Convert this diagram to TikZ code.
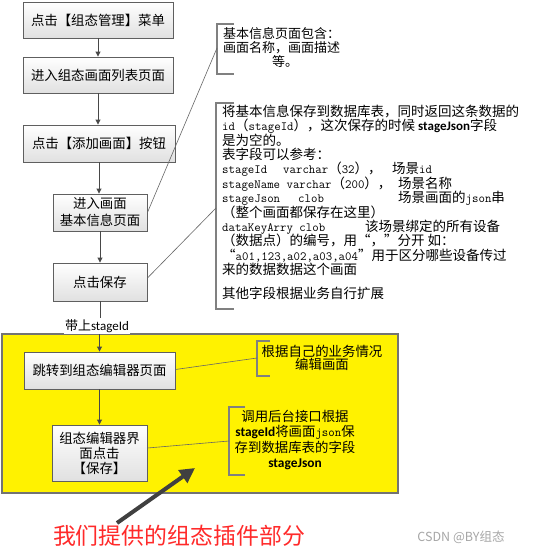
\documentclass[tikz,border=0pt]{standalone}
\usepackage{fontspec}
\setmainfont{Noto Sans CJK SC}
\newfontfamily\calfont{Carlito}
\usetikzlibrary{arrows.meta,shadows}
\newcommand{\tx}[1]{{\ttfamily\fontsize{12.5}{14}\selectfont #1}}
\newcommand{\myLQ}{\makebox[13.5pt][r]{“}}
\newcommand{\myRQ}{\makebox[13.5pt][l]{”}}
\definecolor{boxline}{HTML}{5F5F5F}
\definecolor{connc}{HTML}{484848}
\definecolor{redtxt}{HTML}{FF2A2A}
\begin{document}
\begin{tikzpicture}[x=1pt,y=-1pt,
  flow/.style={draw=boxline, line width=0.9pt, top color=white, bottom color=black!12,
    align=center, inner sep=0pt, font=\fontsize{13.4}{16}\selectfont,
    drop shadow={opacity=0.18,shadow xshift=1pt,shadow yshift=-1pt}},
  conn/.style={draw=connc, line width=0.9pt, -{Triangle[length=5pt,width=5pt]}},
  plainconn/.style={draw=connc, line width=0.9pt},
  note/.style={draw=black!60, line width=0.6pt},
  brk/.style={draw=black!50, line width=1.1pt},
  ln/.style={anchor=west, inner sep=0pt, text height=9pt, text depth=2.5pt, font=\fontsize{13.5}{15}\selectfont},
  tn/.style={anchor=west, inner sep=0pt, text height=9pt, text depth=2.5pt, font=\fontsize{13}{15}\selectfont}
]
\useasboundingbox (0,0) rectangle (538,552);
\fill[white] (0,0) rectangle (538,552);

% yellow region
\draw[fill=yellow, draw=black!55, line width=1.1pt] (2,334) rectangle (398,493);

% flow boxes
\node[flow, minimum width=150pt, minimum height=36pt] (b1) at (98,20) {点击【组态管理】菜单};
\node[flow, minimum width=150pt, minimum height=36pt] (b2) at (98,75) {进入组态画面列表页面};
\node[flow, minimum width=152pt, minimum height=37pt] (b3) at (99,143.5) {点击【添加画面】按钮};
\node[flow, minimum width=94pt, minimum height=37pt, font=\fontsize{13.4}{17}\selectfont] (b4) at (100,212.5) {进入画面\\基本信息页面};
\node[flow, minimum width=94pt, minimum height=38pt] (b5) at (100,282) {点击保存};
\node[flow, minimum width=151pt, minimum height=37pt] (b6) at (99.5,370.5) {跳转到组态编辑器页面};
\node[flow, minimum width=95pt, minimum height=56pt, font=\fontsize{13.4}{15}\selectfont] (b7) at (99.5,453) {组态编辑器界\\面点击\\【保存】};

\node[fill=white, inner sep=1.5pt, font=\fontsize{13}{15}\selectfont] (lab) at (97,326) {带上{\calfont stageId}};

% flow connectors
\draw[conn] (b1.south) -- (b1.south |- b2.north);
\draw[conn] (b2.south) -- (b2.south |- b3.north);
\draw[conn] (b3.south) -- (b3.south |- b4.north);
\draw[conn] (b4.south) -- (b4.south |- b5.north);
\draw[plainconn] (b5.south) -- (b5.south |- lab.north);
\draw[conn] (b6.north |- lab.south) -- (b6.north);
\draw[conn] (b6.south) -- (b6.south |- b7.north);

% annotation 1
\draw[brk] (234,24) -- (217,24) -- (217,74) -- (234,74);
\coordinate (k1) at (217,48);
\node[tn] (n1a) at (223,35) {基本信息页面包含：};
\node[tn] (n1b) at (223,49) {画面名称，画面描述};
\node[tn] (n1c) at (272,63) {等。};
\draw[note] (b4.east) -- (k1);

% annotation 2
\draw[brk] (234,103) -- (216,103) -- (216,309) -- (234,309);
\coordinate (k2) at (216,208);
\node[ln] (m1) at (222,113) {将基本信息保存到数据库表，同时返回这条数据的};
\node[ln] (m2) at (222,127.5) {\tx{id}（\tx{stageId}），这次保存的时候 {\calfont\bfseries\fontsize{13}{15}\selectfont stageJson}字段};
\node[ln] (m3) at (222,142) {是为空的。};
\node[ln] (m4) at (222,156) {表字段可以参考：};
\node[ln] (m5) at (222,170.5) {\makebox[61pt][l]{\tx{stageId}}\makebox[109pt][l]{\tx{varchar}（\tx{32}），}场景\tx{id}};
\node[ln] (m6) at (222,185) {\makebox[176pt][l]{\tx{stageName varchar}（\tx{200}），}场景名称};
\node[ln] (m7) at (222,199.5) {\makebox[76pt][l]{\tx{stageJson}}\makebox[100pt][l]{\tx{clob}}场景画面的\tx{json}串};
\node[ln] (m8) at (222,214) {（整个画面都保存在这里）};
\node[ln] (m9) at (222,228) {\makebox[143pt][l]{\tx{dataKeyArry clob}}该场景绑定的所有设备};
\node[ln] (m10) at (222,242.5) {（数据点）的编号，用\myLQ，\myRQ 分开 如：};
\node[ln] (m11) at (222,257) {\myLQ\tx{a01,123,a02,a03,a04}\myRQ 用于区分哪些设备传过};
\node[ln] (m12) at (222,271) {来的数据数据这个画面};
\node[ln] (m13) at (222,295) {其他字段根据业务自行扩展};
\draw[note] ([yshift=4pt]b5.east) -- (k2);

% annotation 3
\draw[brk] (270,341) -- (257,341) -- (257,376) -- (270,376);
\coordinate (k3) at (257,358);
\node[align=center, inner sep=0pt, font=\fontsize{13.4}{13}\selectfont] (t3) at (322,357.5) {根据自己的业务情况\\编辑画面};
\draw[note] ([yshift=1pt]b6.east) -- (k3);

% annotation 4
\draw[brk] (245,407) -- (229,407) -- (229,475) -- (245,475);
\coordinate (k4) at (229,441);
\node[align=center, inner sep=0pt, font=\fontsize{13.4}{15.3}\selectfont] (t4) at (295,440) {调用后台接口根据\\{\calfont\bfseries stageId}将画面\tx{json}保\\存到数据库表的字段\\{\calfont\bfseries stageJson}};
\draw[note] ([yshift=5pt]b7.east) -- (k4);

% big arrow
\coordinate (bt) at (117,523);
\coordinate (bh) at (195,468);
\draw[line width=4pt, draw=black!75, -{Triangle[length=15pt,width=15pt]}] (bt) -- (bh);

\node[text=redtxt, inner sep=0pt, font=\fontsize{22.9}{26}\selectfont] (red) at (179,536) {我们提供的组态插件部分};
\node[text=black!35, inner sep=0pt, font=\fontsize{12.5}{14}\selectfont] (wm) at (461,537) {CSDN @BY组态};
\end{tikzpicture}
\end{document}
